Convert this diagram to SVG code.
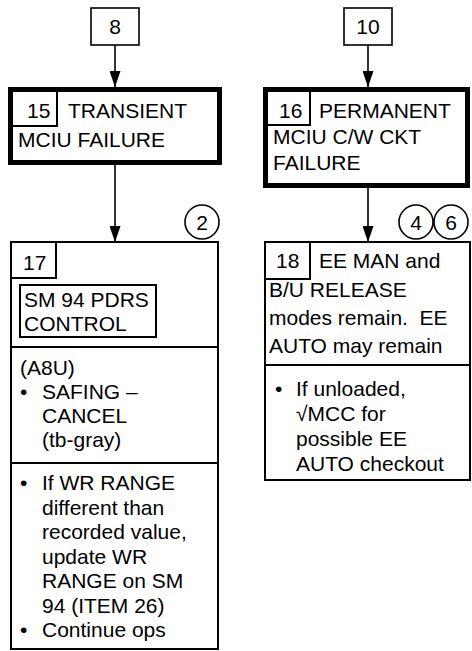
<svg xmlns="http://www.w3.org/2000/svg" width="472" height="651" viewBox="0 0 472 651">
<defs>
<style>
text{font-family:"Liberation Sans",Arial,sans-serif;font-size:21px;fill:#000}
.c{text-anchor:middle}
.b{fill:#fff;stroke:#000;stroke-width:1.6}
.t{fill:#fff;stroke:#000;stroke-width:5}
.m{fill:#fff;stroke:#000;stroke-width:2}
.l{fill:none;stroke:#000;stroke-width:2}
.e{stroke:#000;stroke-width:1.6;fill:none;marker-end:url(#ah)}
</style>
<marker id="ah" markerUnits="userSpaceOnUse" markerWidth="16" markerHeight="11" refX="16" refY="5.5" orient="auto" viewBox="0 0 16 11">
<path d="M0,0 L16,5.5 L0,11 Z" fill="#000"/>
</marker>
</defs>
<g id="connectors">
<line class="e" x1="115" y1="45" x2="115" y2="87"/>
<line class="e" x1="368" y1="45" x2="368" y2="87"/>
<line class="e" x1="115" y1="165" x2="115" y2="242"/>
<line class="e" x1="368" y1="188" x2="368" y2="242"/>
</g>
<g id="n8">
<rect class="b" x="91" y="8" width="48" height="37"/>
<text class="c" x="115" y="34">8</text>
</g>
<g id="n10">
<rect class="b" x="344" y="8" width="48" height="37"/>
<text class="c" x="368" y="34">10</text>
</g>
<g id="n15">
<rect class="t" x="10.5" y="89.5" width="209" height="73"/>
<path class="l" d="M57,92 V126 H12"/>
<text x="27" y="118">15</text>
<text x="68" y="118">TRANSIENT</text>
<text x="18" y="147">MCIU FAILURE</text>
</g>
<g id="n16">
<rect class="t" x="265.5" y="89.5" width="202" height="96"/>
<path class="l" d="M310,92 V125 H267"/>
<text x="279" y="118">16</text>
<text x="319" y="118">PERMANENT</text>
<text x="273" y="144">MCIU C/W CKT</text>
<text x="273" y="170">FAILURE</text>
</g>
<g id="n17">
<rect class="m" x="11" y="242" width="207" height="407"/>
<path class="l" d="M56,242 V278 H11"/>
<text x="23" y="270">17</text>
<rect class="m" x="20" y="285" width="136" height="52"/>
<text x="24" y="307">SM 94 PDRS</text>
<text x="24" y="331">CONTROL</text>
<line class="l" x1="11" y1="347" x2="218" y2="347"/>
<text x="20" y="375">(A8U)</text>
<text x="20" y="399">•</text>
<text x="42" y="399">SAFING –</text>
<text x="42" y="423">CANCEL</text>
<text x="42" y="447">(tb-gray)</text>
<line class="l" x1="11" y1="463" x2="218" y2="463"/>
<text x="20" y="490">•</text>
<text x="42" y="490">If WR RANGE</text>
<text x="42" y="514.5">different than</text>
<text x="42" y="539">recorded value,</text>
<text x="42" y="563.5">update WR</text>
<text x="42" y="588">RANGE on SM</text>
<text x="42" y="612.5">94 (ITEM 26)</text>
<text x="20" y="637">•</text>
<text x="42" y="637">Continue ops</text>
</g>
<g id="c2">
<circle class="b" cx="202" cy="222" r="17"/>
<text class="c" x="202" y="230">2</text>
</g>
<g id="n18">
<rect class="m" x="265" y="242" width="205" height="238"/>
<path class="l" d="M310,242 V279 H265"/>
<text x="276" y="268">18</text>
<text x="319" y="268">EE MAN and</text>
<text x="269" y="297">B/U RELEASE</text>
<text x="269" y="325" style="white-space:pre">modes remain.  EE</text>
<text x="269" y="353">AUTO may remain</text>
<line class="l" x1="265" y1="365" x2="470" y2="365"/>
<text x="275" y="396">•</text>
<text x="296" y="396">If unloaded,</text>
<text x="296" y="421">√MCC for</text>
<text x="296" y="446">possible EE</text>
<text x="296" y="471">AUTO checkout</text>
</g>
<g id="c4">
<circle class="b" cx="416" cy="222" r="17"/>
<text class="c" x="416" y="230">4</text>
</g>
<g id="c6">
<circle class="b" cx="451" cy="222" r="17"/>
<text class="c" x="451" y="230">6</text>
</g>
</svg>
